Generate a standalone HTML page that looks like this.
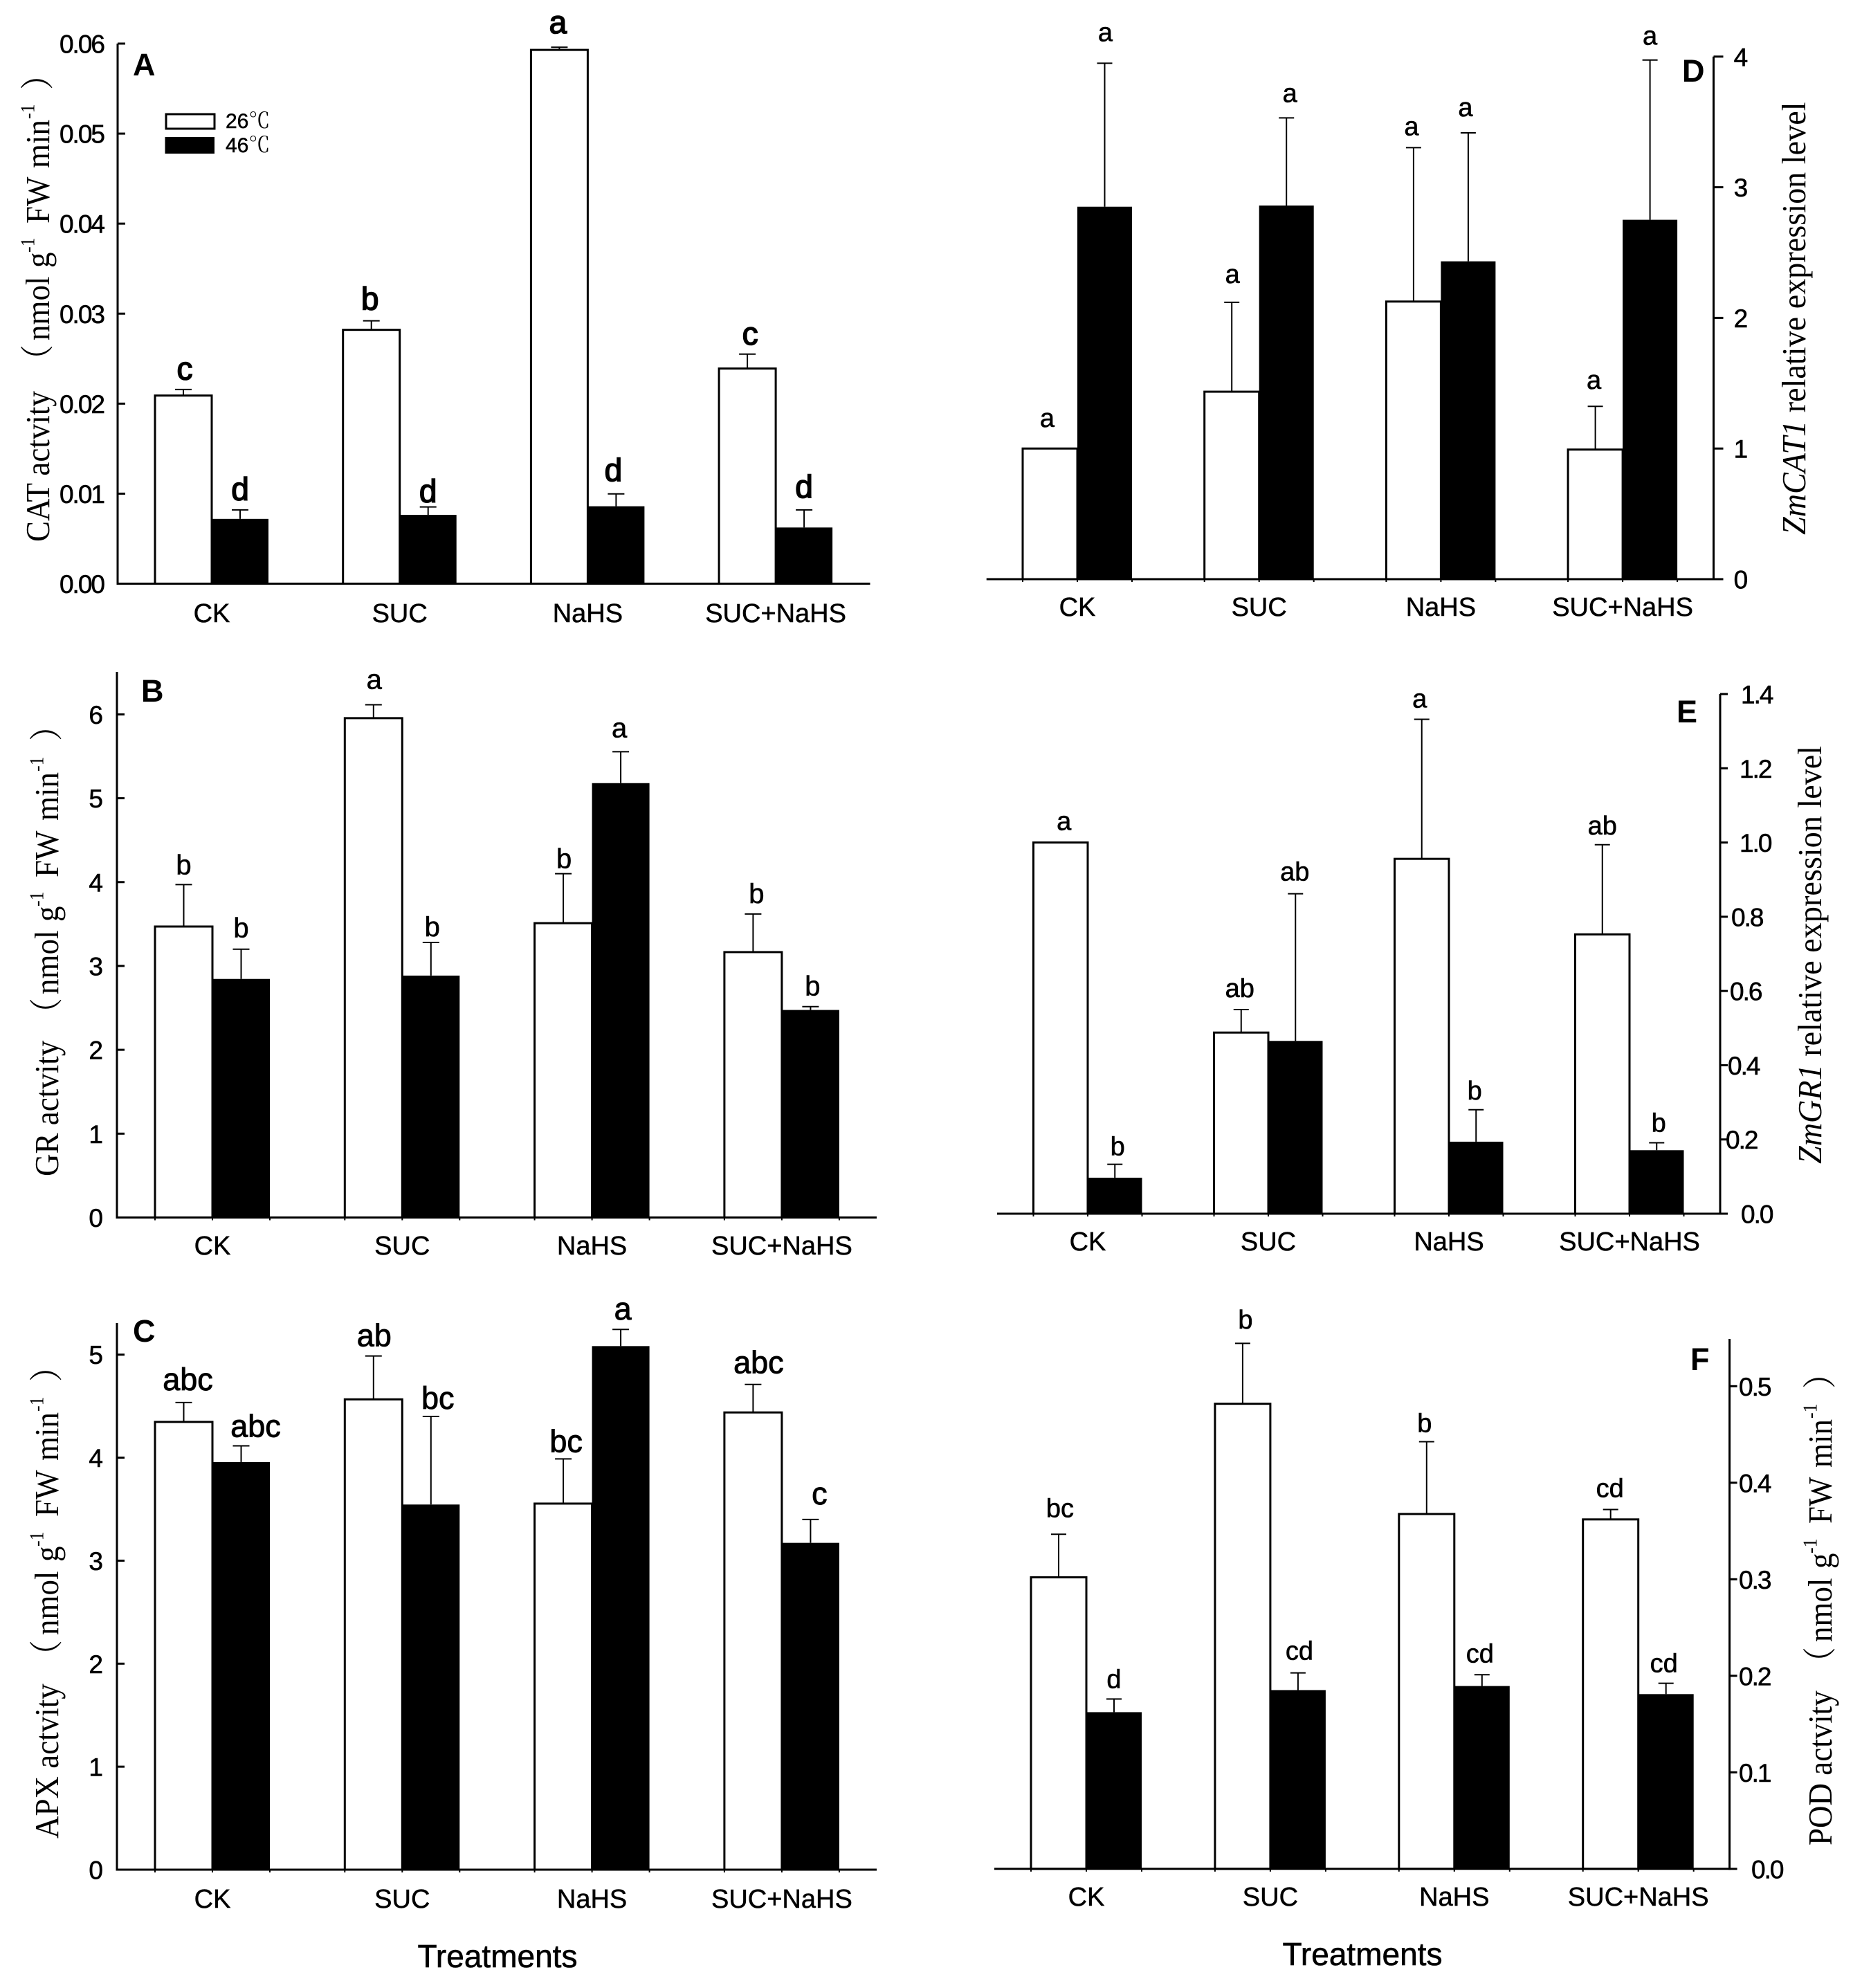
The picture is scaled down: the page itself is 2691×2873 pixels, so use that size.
<!DOCTYPE html>
<html lang="en">
<head>
<meta charset="utf-8">
<title>Antioxidant enzyme activity and gene expression panels</title>
<style>
html,body{margin:0;padding:0;background:#fff;}
svg{display:block;}
text{fill:#000;font-family:"Liberation Sans","Noto Sans CJK SC",sans-serif;}
.ttl{font-family:"Liberation Serif","Noto Serif CJK SC",serif;font-size:45px;}
.gene{font-size:46.2px;}
.sup{font-size:26px;}
.pl{font-weight:bold;font-size:45px;}
.treat{font-size:46px;stroke:#000;stroke-width:.6px;}
</style>
</head>
<body>
<svg id="figure" xmlns="http://www.w3.org/2000/svg" width="2691" height="2873" viewBox="0 0 2691 2873">
  <rect x="0" y="0" width="2691" height="2873" fill="#fff"/>

  <g>
    <rect x="240" y="165" width="70" height="21" fill="#fff" stroke="#000" stroke-width="3"/>
    <rect x="238.500" y="198" width="71.500" height="24" fill="#000"/>
    <text x="326" y="185" font-size="30" stroke="#000" stroke-width=".5">26<tspan font-family="'Noto Serif CJK SC',serif" font-size="31" stroke-width="0">℃</tspan></text>
    <text x="326" y="220" font-size="30" stroke="#000" stroke-width=".5">46<tspan font-family="'Noto Serif CJK SC',serif" font-size="31" stroke-width="0">℃</tspan></text>
  </g>

  <text class="ttl" transform="translate(71,783) rotate(-90) scale(1,1.08)"><tspan x="0" y="0">CAT actvity</tspan><tspan x="240" y="0">（</tspan><tspan x="291" y="0">nmol</tspan><tspan x="396" y="0">g</tspan><tspan class="sup" x="418" y="-20">-1</tspan><tspan x="460" y="0">FW</tspan><tspan x="540" y="0">min</tspan><tspan class="sup" x="611" y="-20">-1</tspan><tspan x="653" y="0">）</tspan></text>
  <text class="ttl" transform="translate(84,1700) rotate(-90) scale(1,1.08)"><tspan x="0" y="0">GR actvity</tspan><tspan x="213" y="0">（</tspan><tspan x="263" y="0">nmol</tspan><tspan x="368" y="0">g</tspan><tspan class="sup" x="390" y="-20">-1</tspan><tspan x="432" y="0">FW</tspan><tspan x="514" y="0">min</tspan><tspan class="sup" x="585" y="-20">-1</tspan><tspan x="629" y="0">）</tspan></text>
  <text class="ttl" transform="translate(84,2657) rotate(-90) scale(1,1.08)"><tspan x="0" y="0">APX actvity</tspan><tspan x="242" y="0">（</tspan><tspan x="294" y="0">nmol</tspan><tspan x="400" y="0">g</tspan><tspan class="sup" x="422" y="-20">-1</tspan><tspan x="465" y="0">FW</tspan><tspan x="546" y="0">min</tspan><tspan class="sup" x="617" y="-20">-1</tspan><tspan x="660" y="0">）</tspan></text>
  <text class="ttl gene" transform="translate(2609,773) rotate(-90) scale(1,1.06)"><tspan font-style="italic">ZmCAT1</tspan> relative expression level</text>
  <text class="ttl gene" transform="translate(2632,1682) rotate(-90) scale(1,1.06)"><tspan font-style="italic">ZmGR1</tspan> relative expression level</text>
  <text class="ttl" transform="translate(2647,2667) rotate(-90) scale(1,1.08)"><tspan x="0" y="0">POD actvity</tspan><tspan x="242" y="0">（</tspan><tspan x="294" y="0">nmol</tspan><tspan x="400" y="0">g</tspan><tspan class="sup" x="422" y="-20">-1</tspan><tspan x="465" y="0">FW</tspan><tspan x="546" y="0">min</tspan><tspan class="sup" x="617" y="-20">-1</tspan><tspan x="660" y="0">）</tspan></text>

  <text class="pl" x="192" y="109">A</text>
  <text class="pl" x="204" y="1014">B</text>
  <text class="pl" x="192" y="1939">C</text>
  <text class="pl" x="2431" y="118">D</text>
  <text class="pl" x="2423" y="1044">E</text>
  <text class="pl" x="2443" y="1980">F</text>

  <text class="treat" x="719" y="2843" text-anchor="middle">Treatments</text>
  <text class="treat" x="1969" y="2840" text-anchor="middle">Treatments</text>

  <g id="plots"></g>
</svg>

<script>
// ---- shared categories ----
const categories = ['CK', 'SUC', 'NaHS', 'SUC+NaHS'];

// ---- Panel A: CAT activity ----
const catTicks = ['0.00', '0.01', '0.02', '0.03', '0.04', '0.05', '0.06'];
const catWhite = [0.0209, 0.0282, 0.0593, 0.0239];
const catWhiteUpper = [0.02157, 0.0292, 0.0596, 0.0255];
const catBlack = [0.0072, 0.00764, 0.0086, 0.00624];
const catBlackUpper = [0.0082, 0.00852, 0.00997, 0.0082];
const catWhiteLetters = ['c', 'b', 'a', 'c'];
const catBlackLetters = ['d', 'd', 'd', 'd'];

// ---- Panel B: GR activity ----
const grTicks = ['0', '1', '2', '3', '4', '5', '6'];
const grWhite = [3.47, 5.955, 3.51, 3.165];
const grWhiteUpper = [3.97, 6.115, 4.10, 3.62];
const grBlack = [2.845, 2.885, 5.18, 2.475];
const grBlackUpper = [3.20, 3.28, 5.555, 2.515];
const grWhiteLetters = ['b', 'a', 'b', 'b'];
const grBlackLetters = ['b', 'b', 'a', 'b'];

// ---- Panel C: APX activity ----
const apxTicks = ['0', '1', '2', '3', '4', '5'];
const apxWhite = [4.347, 4.566, 3.554, 4.439];
const apxWhiteUpper = [4.535, 4.987, 3.988, 4.711];
const apxBlack = [3.957, 3.545, 5.083, 3.173];
const apxBlackUpper = [4.115, 4.40, 5.245, 3.40];
const apxWhiteLetters = ['abc', 'ab', 'bc', 'abc'];
const apxBlackLetters = ['abc', 'bc', 'a', 'c'];

// ---- Panel D: ZmCAT1 expression ----
const zmcatTicks = ['0', '1', '2', '3', '4'];
const zmcatWhite = [1.0, 1.435, 2.125, 0.992];
const zmcatWhiteUpper = [1.0, 2.119, 3.303, 1.323];
const zmcatBlack = [2.851, 2.86, 2.433, 2.751];
const zmcatBlackUpper = [3.949, 3.531, 3.416, 3.974];
const zmcatWhiteLetters = ['a', 'a', 'a', 'a'];
const zmcatBlackLetters = ['a', 'a', 'a', 'a'];

// ---- Panel E: ZmGR1 expression ----
const zmgrTicks = ['0.0', '0.2', '0.4', '0.6', '0.8', '1.0', '1.2', '1.4'];
const zmgrWhite = [1.0, 0.488, 0.956, 0.7525];
const zmgrWhiteUpper = [1.0, 0.55, 1.332, 0.994];
const zmgrBlack = [0.097, 0.4655, 0.194, 0.171];
const zmgrBlackUpper = [0.133, 0.862, 0.28, 0.191];
const zmgrWhiteLetters = ['a', 'ab', 'a', 'ab'];
const zmgrBlackLetters = ['b', 'ab', 'b', 'b'];

// ---- Panel F: POD activity ----
const podTicks = ['0.0', '0.1', '0.2', '0.3', '0.4', '0.5'];
const podWhite = [0.302, 0.4818, 0.3676, 0.362];
const podWhiteUpper = [0.3466, 0.5444, 0.4425, 0.3723];
const podBlack = [0.1623, 0.1852, 0.1894, 0.181];
const podBlackUpper = [0.1759, 0.203, 0.2011, 0.1922];
const podWhiteLetters = ['bc', 'b', 'b', 'cd'];
const podBlackLetters = ['d', 'cd', 'cd', 'cd'];

const SVGNS = 'http://www.w3.org/2000/svg';
const plots = document.getElementById('plots');

function line(parent, x1, y1, x2, y2, w) {
  const el = document.createElementNS(SVGNS, 'line');
  el.setAttribute('x1', x1);
  el.setAttribute('y1', y1);
  el.setAttribute('x2', x2);
  el.setAttribute('y2', y2);
  el.setAttribute('stroke', '#000');
  el.setAttribute('stroke-width', w);
  parent.appendChild(el);
  return el;
}

function label(parent, x, y, str, size, anchor, weight) {
  const el = document.createElementNS(SVGNS, 'text');
  el.setAttribute('x', x);
  el.setAttribute('y', y);
  el.setAttribute('font-size', size);
  el.setAttribute('text-anchor', anchor);
  el.setAttribute('stroke', '#000');
  el.setAttribute('stroke-width', weight);
  el.textContent = str;
  parent.appendChild(el);
  return el;
}

function drawPanel(p) {
  const g = document.createElementNS(SVGNS, 'g');
  
  
  plots.appendChild(g);

  const maxTick = parseFloat(p.ticks[p.ticks.length - 1]);
  const yOf = v => p.y0 + (p.yMaxTick - p.y0) * (v / maxTick);

  // value bars
  categories.forEach((cat, i) => {
    const left = p.x0 + i * p.step;
    const whiteTop = yOf(p.white[i]);
    const blackTop = yOf(p.black[i]);

    const whiteBar = document.createElementNS(SVGNS, 'rect');
    whiteBar.setAttribute('x', left);
    whiteBar.setAttribute('y', whiteTop);
    whiteBar.setAttribute('width', p.barW);
    whiteBar.setAttribute('height', Math.max(0, p.y0 - whiteTop));
    whiteBar.setAttribute('fill', '#fff');
    whiteBar.setAttribute('stroke', '#000');
    whiteBar.setAttribute('stroke-width', 3);
    
    
    g.appendChild(whiteBar);

    const blackBar = document.createElementNS(SVGNS, 'rect');
    blackBar.setAttribute('x', left + p.barW);
    blackBar.setAttribute('y', blackTop);
    blackBar.setAttribute('width', p.barW);
    blackBar.setAttribute('height', Math.max(0, p.y0 - blackTop + 1));
    blackBar.setAttribute('fill', '#000');
    
    
    g.appendChild(blackBar);

    // error bars and significance letters
    const whiteX = left + p.barW / 2;
    const blackX = left + p.barW * 1.5;
    const whiteUp = yOf(p.whiteUpper[i]);
    const blackUp = yOf(p.blackUpper[i]);

    if (p.whiteUpper[i] > p.white[i]) {
      const stem = line(g, whiteX, whiteTop, whiteX, whiteUp, 2);
      
      
      const cap = line(g, whiteX - p.cap, whiteUp, whiteX + p.cap, whiteUp, 2);
      
      
    }
    const stemB = line(g, blackX, blackTop, blackX, blackUp, 2);
    
    
    const capB = line(g, blackX - p.cap, blackUp, blackX + p.cap, blackUp, 2);
    
    

    const lw = label(g, whiteX + p.whiteDx[i], whiteUp - p.whiteGap[i], p.whiteLetters[i], p.letterSize, 'middle', p.letterStroke);
    
    
    const lb = label(g, blackX + p.blackDx[i], blackUp - p.blackGap[i], p.blackLetters[i], p.letterSize, 'middle', p.letterStroke);
    
    

    // x tick marks
    if (p.xTick > 0) {
      [0, 1, 2].forEach(k => {
        const t = line(g, left + k * p.barW, p.y0, left + k * p.barW, p.y0 + p.xTick, 2);
        
        
      });
    }

    const cl = label(g, left + p.barW, p.catY, cat, 38, 'middle', 0.5);
    
    
  });

  // axes
  const xAxis = line(g, p.axisLeft, p.y0, p.axisRight, p.y0, 3);
  
  
  const yAxis = line(g, p.axisX, p.yTop, p.axisX, p.y0 + 1.5, 3);
  
  

  p.ticks.forEach((str, i) => {
    const y = yOf(parseFloat(str));
    const t = line(g, p.axisX, y, p.axisX + p.yTickLen, y, 3);
    
    
    const x = p.tickLabelX[i];
    const tl = label(g, x, y + 13.500, str, 37, p.tickAnchor, 0.6);
    if (p.tightTicks) tl.setAttribute('letter-spacing', '-2');
    
    
  });
}

drawPanel({
  ticks: catTicks, white: catWhite, whiteUpper: catWhiteUpper, black: catBlack, blackUpper: catBlackUpper,
  whiteLetters: catWhiteLetters, blackLetters: catBlackLetters,
  x0: 224, step: 271.7, barW: 82, y0: 843.5, yMaxTick: 63, yTop: 63,
  axisX: 170, axisLeft: 170, axisRight: 1257.5, yTickLen: 11, xTick: 0, catY: 899, cap: 12,
  letterSize: 46, letterStroke: 1.6, tickAnchor: 'end', tickLabelX: [150, 150, 150, 150, 150, 150, 150], tightTicks: true,
  whiteGap: [14.5, 16, 20, 14], blackGap: [14.5, 7, 19, 17.6],
  whiteDx: [2, -2, -2, 4], blackDx: [0, 0, -4, 0]
});
drawPanel({
  ticks: grTicks, white: grWhite, whiteUpper: grWhiteUpper, black: grBlack, blackUpper: grBlackUpper,
  whiteLetters: grWhiteLetters, blackLetters: grBlackLetters,
  x0: 224, step: 274.3, barW: 83, y0: 1759.5, yMaxTick: 1032.4, yTop: 971,
  axisX: 169, axisLeft: 169, axisRight: 1267, yTickLen: 11, xTick: 4, catY: 1813, cap: 12,
  letterSize: 40, letterStroke: 0.6, tickAnchor: 'end', tickLabelX: [149, 149, 149, 149, 149, 149, 149], tightTicks: false,
  whiteGap: [15, 23, 8, 16], blackGap: [17, 9, 21, 16],
  whiteDx: [0, 1, 1, 5], blackDx: [0, 2, -2, 3]
});
drawPanel({
  ticks: apxTicks, white: apxWhite, whiteUpper: apxWhiteUpper, black: apxBlack, blackUpper: apxBlackUpper,
  whiteLetters: apxWhiteLetters, blackLetters: apxBlackLetters,
  x0: 224, step: 274.3, barW: 83, y0: 2702, yMaxTick: 1957.7, yTop: 1912,
  axisX: 169, axisLeft: 169, axisRight: 1267, yTickLen: 11, xTick: 4, catY: 2757, cap: 12,
  letterSize: 45, letterStroke: 0.9, tickAnchor: 'end', tickLabelX: [149, 149, 149, 149, 149, 149], tightTicks: false,
  whiteGap: [18, 14, 10, 16], blackGap: [13, 11, 14, 22],
  whiteDx: [6, 1, 4, 8], blackDx: [21, 10, 3, 13]
});
drawPanel({
  ticks: zmcatTicks, white: zmcatWhite, whiteUpper: zmcatWhiteUpper, black: zmcatBlack, blackUpper: zmcatBlackUpper,
  whiteLetters: zmcatWhiteLetters, blackLetters: zmcatBlackLetters,
  x0: 1478, step: 262.7, barW: 79, y0: 837, yMaxTick: 81.8, yTop: 81.8,
  axisX: 2476.5, axisLeft: 1425.7, axisRight: 2476.5, yTickLen: 14, xTick: 4, catY: 890, cap: 11,
  letterSize: 38, letterStroke: 0.6, tickAnchor: 'start', tickLabelX: [2505.6, 2505.6, 2505.6, 2505.6, 2505.6], tightTicks: false,
  whiteGap: [31, 28, 18, 25], blackGap: [32, 23, 24, 22],
  whiteDx: [-4, 1, -3, -2], blackDx: [1, 5, -4, 0]
});
drawPanel({
  ticks: zmgrTicks, white: zmgrWhite, whiteUpper: zmgrWhiteUpper, black: zmgrBlack, blackUpper: zmgrBlackUpper,
  whiteLetters: zmgrWhiteLetters, blackLetters: zmgrBlackLetters,
  x0: 1493.5, step: 261, barW: 78.5, y0: 1754, yMaxTick: 1003, yTop: 1003,
  axisX: 2486, axisLeft: 1441, axisRight: 2486, yTickLen: 11, xTick: 4, catY: 1807, cap: 11,
  letterSize: 38, letterStroke: 0.6, tickAnchor: 'start', tickLabelX: [2516, 2494, 2497, 2500, 2502, 2514, 2514, 2516], tightTicks: true,
  whiteGap: [18, 18, 17, 15], blackGap: [13, 19, 15, 16],
  whiteDx: [5, -2, -3, 0], blackDx: [4, -1, -2, 3]
});
drawPanel({
  ticks: podTicks, white: podWhite, whiteUpper: podWhiteUpper, black: podBlack, blackUpper: podBlackUpper,
  whiteLetters: podWhiteLetters, blackLetters: podBlackLetters,
  x0: 1490, step: 265.9, barW: 80, y0: 2700.8, yMaxTick: 2003.3, yTop: 1935,
  axisX: 2499.6, axisLeft: 1437, axisRight: 2499.6, yTickLen: 11, xTick: 4, catY: 2754, cap: 11,
  letterSize: 38, letterStroke: 0.6, tickAnchor: 'start', tickLabelX: [2531, 2513, 2513, 2513, 2513, 2513], tightTicks: true,
  whiteGap: [25, 21.5, 14, 18], blackGap: [16, 19, 18, 16],
  whiteDx: [2, 4, -3, -1], blackDx: [0, 2, -3, -3]
});
</script>
</body>
</html>
